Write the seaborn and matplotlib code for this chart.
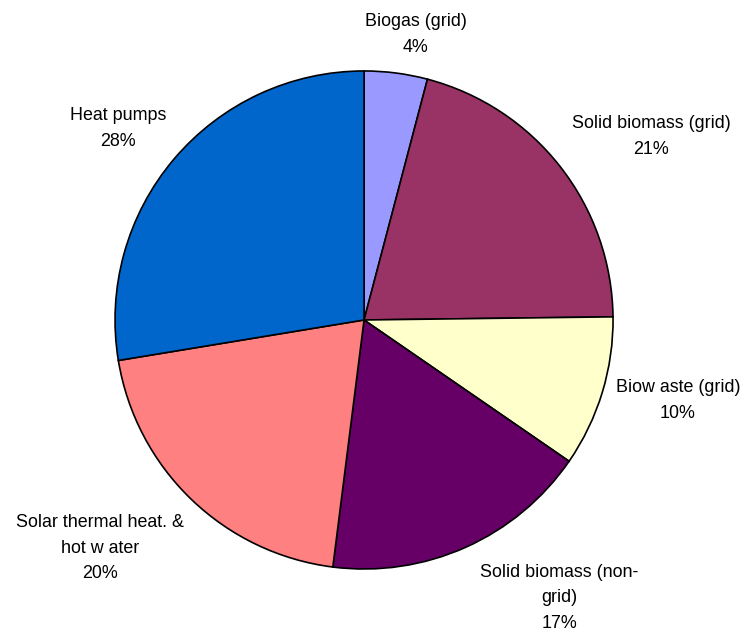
import matplotlib
matplotlib.use("Agg")
import matplotlib.pyplot as plt
import seaborn as sns

categories = ["Biogas (grid)", "Solid biomass (grid)", "Biow aste (grid)",
              "Solid biomass (non-\ngrid)", "Solar thermal heat. &\nhot w ater", "Heat pumps"]
shares = [4.1, 20.7, 9.8, 17.4, 20.4, 27.6]
colors = ["#9999FF", "#993366", "#FFFFCC", "#660066", "#FF8080", "#0066CC"]

# label anchor positions (layout, in pie-radius units)
label_pos = [(0.207, 1.145), (1.153, 0.737), (1.261, -0.325),
             (0.783, -1.116), (-1.060, -0.916), (-0.988, 0.769)]

sns.set_theme(style="white")
plt.rcParams['font.family'] = ['Liberation Sans', 'DejaVu Sans']

fig = plt.figure(figsize=(7.47, 6.31), dpi=100)
ax = fig.add_axes([0, 0, 1, 1])
ax.pie(shares, colors=colors, startangle=90, counterclock=False, radius=1.0,
       wedgeprops=dict(edgecolor="black", linewidth=1.2))
total = sum(shares)
for name, v, (x, y) in zip(categories, shares, label_pos):
    ax.text(x, y, f"{name}\n{round(v / total * 100):.0f}%", ha="center", va="center",
            fontsize=12.9, color="black", linespacing=1.68)
ax.set_xlim(-1.462, 1.538)
ax.set_ylim(-1.249, 1.285)
ax.set_aspect("auto")
ax.axis("off")
fig.savefig("out.png", dpi=100, facecolor="white")
